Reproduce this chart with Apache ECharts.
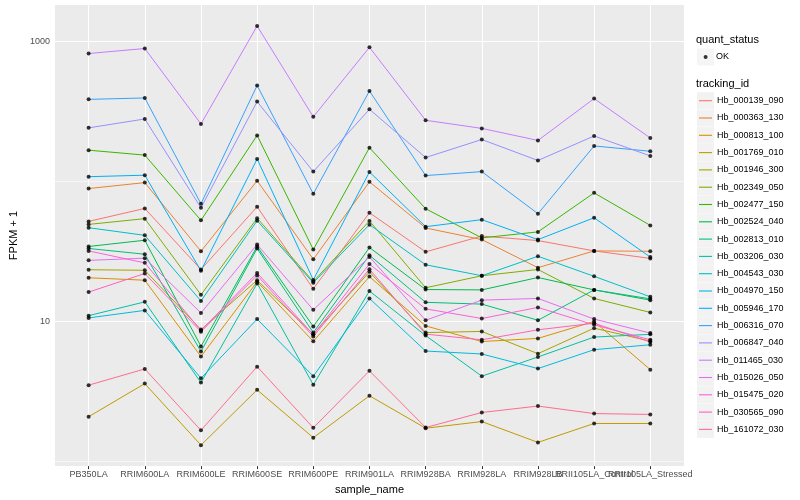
<!DOCTYPE html>
<html>
<head>
<meta charset="utf-8">
<script src="https://cdn.jsdelivr.net/npm/echarts@6/dist/echarts.min.js"></script>
<style>html,body{margin:0;padding:0;background:#fff}#c{width:800px;height:500px}</style>
</head>
<body>
<div id="c"></div>
<script>
const categories = ['PB350LA','RRIM600LA','RRIM600LE','RRIM600SE','RRIM600PE','RRIM901LA','RRIM928BA','RRIM928LA','RRIM928LB','RRII105LA_Control','RRII105LA_Stressed'];
const trackingIds = ['Hb_000139_090','Hb_000363_130','Hb_000813_100','Hb_001769_010','Hb_001946_300','Hb_002349_050','Hb_002477_150','Hb_002524_040','Hb_002813_010','Hb_003206_030','Hb_004543_030','Hb_004970_150','Hb_005946_170','Hb_006316_070','Hb_006847_040','Hb_011465_030','Hb_015026_050','Hb_015475_020','Hb_030565_090','Hb_161072_030'];
const colors = ['#F8766D','#EA8331','#D89000','#C09B00','#A3A500','#7CAE00','#39B600','#00BB4E','#00BF7D','#00C1A3','#00BFC4','#00BAE0','#00B0F6','#35A2FF','#9590FF','#C77CFF','#E76BF3','#FA62DB','#FF62BC','#FF6C91'];

const hb000139_090 = [51.8, 64.1, 23.5, 65.9, 17.1, 59.7, 31.4, 40.7, 37.8, 31.9, 28.2];
const hb000363_130 = [88.9, 98, 31.7, 101, 27.8, 99.2, 46.5, 38.4, 24.2, 31.9, 31.7];
const hb000813_100 = [20.5, 19.7, 5.62, 19.2, 7.21, 20.9, 9.30, 7.19, 7.57, 10.0, 4.53];
const hb001769_010 = [2.09, 3.60, 1.31, 3.25, 1.48, 2.95, 1.73, 1.93, 1.37, 1.87, 1.87];
const hb001946_300 = [23.4, 23.2, 8.75, 19.7, 8.12, 22.6, 8.33, 8.49, 5.89, 8.96, 7.24];
const hb002349_050 = [49.3, 54.2, 15.5, 54.6, 19.3, 52.2, 17.4, 21.2, 23.5, 14.6, 11.6];
const hb002477_150 = [167, 154, 52.7, 213, 32.6, 174, 63.8, 39.5, 43.6, 82.8, 48.5];
const hb002524_040 = [34.3, 38.0, 6.64, 34.3, 9.21, 33.7, 16.9, 16.8, 20.6, 16.8, 14.2];
const hb002813_010 = [33.2, 30.2, 6.10, 33.2, 8.33, 29.7, 13.7, 13.3, 10.2, 16.8, 14.5];
const hb003206_030 = [11.0, 13.8, 3.66, 18.7, 3.53, 16.5, 7.93, 4.07, 5.58, 7.74, 8.09];
const hb004543_030 = [46.7, 41.2, 14.0, 52.4, 18.9, 49.1, 25.4, 21.2, 29.2, 21.0, 15.0];
const hb004970_150 = [10.6, 12.0, 3.93, 10.4, 4.07, 14.6, 6.15, 5.86, 4.61, 6.29, 6.82];
const hb005946_170 = [108, 110.7, 23.0, 144.5, 19.8, 116.8, 47.5, 53.3, 38.4, 55.0, 28.8];
const hb006316_070 = [385, 394, 69.2, 484, 81.5, 442, 110, 117.4, 58.8, 179, 164];
const hb006847_040 = [241, 279, 64.8, 371, 117.4, 327, 148, 199, 141, 211, 152];
const hb011465_030 = [818, 888, 257, 1286, 289, 906, 273, 239, 196, 390, 204];
const hb015026_050 = [27.3, 28.3, 11.5, 35.4, 12.1, 28.9, 10.2, 14.2, 14.6, 10.4, 8.26];
const hb015475_020 = [31.9, 26.2, 8.61, 22.2, 8.06, 25.7, 12.3, 10.5, 12.6, 9.46, 7.40];
const hb030565_090 = [16.2, 22.0, 8.46, 21.3, 7.82, 23.6, 8.12, 7.40, 8.72, 9.72, 7.13];
const hb161072_030 = [3.51, 4.58, 1.67, 4.76, 1.74, 4.44, 1.75, 2.24, 2.49, 2.20, 2.17];

const yLabelValues = [10, 1000];
const yGridMajor = [10, 1000];
const yGridMinor = [1, 100];

const seriesValues = [hb000139_090, hb000363_130, hb000813_100, hb001769_010, hb001946_300, hb002349_050, hb002477_150, hb002524_040, hb002813_010, hb003206_030, hb004543_030, hb004970_150, hb005946_170, hb006316_070, hb006847_040, hb011465_030, hb015026_050, hb015475_020, hb030565_090, hb161072_030];

const FONT = 'Liberation Sans, Arial, sans-serif';
const catIdx = categories.map((c, i) => i);
const catIdxEven = catIdx.filter(i => i % 2 === 0);
const catIdxOdd = catIdx.filter(i => i % 2 === 1);

const lineSeries = trackingIds.map((id, k) => ({
  name: id,
  type: 'line',
  z: 3,
  color: colors[k],
  showSymbol: false,
  symbol: 'none',
  lineStyle: { width: 1, color: colors[k] },
  itemStyle: { color: colors[k] },
  data: seriesValues[k].map((v, i) => [i, v]),
  silent: true
}));

const pointData = [];
seriesValues.forEach(arr => arr.forEach((v, i) => pointData.push([i, v])));

const gridSeries = {
  name: '__grid',
  type: 'line',
  data: [],
  z: 1,
  silent: true,
  markLine: {
    z: 1,
    silent: true,
    symbol: 'none',
    animation: false,
    label: { show: false },
    data: [
      ...yGridMinor.map(v => ({ yAxis: v, lineStyle: { color: '#FFFFFF', width: 0.6, type: 'solid' } })),
      ...yGridMajor.map(v => ({ yAxis: v, lineStyle: { color: '#FFFFFF', width: 1.1, type: 'solid' } })),
      ...catIdx.map(i => ({ xAxis: i, lineStyle: { color: '#FFFFFF', width: 1.1, type: 'solid' } }))
    ]
  }
};

const xLabelStyle = { margin: 4, interval: 0, hideOverlap: false, showMinLabel: true, showMaxLabel: true,
  fontSize: 9, color: '#4D4D4D', fontFamily: FONT, formatter: v => categories[Math.round(v)] || '' };

const chart = echarts.init(document.getElementById('c'), null, { renderer: 'canvas' });
chart.setOption({
  animation: false,
  backgroundColor: '#FFFFFF',
  title: [
    { text: 'quant_status', left: 696, top: 34, padding: 0, textStyle: { fontSize: 11, fontWeight: 'normal', color: '#000', fontFamily: FONT } },
    { text: 'tracking_id', left: 696, top: 78, padding: 0, textStyle: { fontSize: 11, fontWeight: 'normal', color: '#000', fontFamily: FONT } }
  ],
  grid: { left: 45, right: 116, top: 5, bottom: 31.3, show: true, backgroundColor: '#EBEBEB', borderWidth: 0, containLabel: false },
  xAxis: [{
    type: 'value',
    position: 'bottom',
    min: -0.6,
    max: 10.6,
    name: 'sample_name',
    nameLocation: 'middle',
    nameGap: 13,
    nameTextStyle: { fontSize: 11, color: '#000', fontFamily: FONT },
    axisLine: { show: false },
    splitLine: { show: false },
    axisTick: { show: true, customValues: catIdx, length: 3, lineStyle: { color: '#333333', width: 1 } },
    axisLabel: Object.assign({ customValues: catIdxEven }, xLabelStyle)
  }, {
    type: 'value',
    position: 'bottom',
    offset: 0,
    min: -0.6,
    max: 10.6,
    axisLine: { show: false },
    splitLine: { show: false },
    axisTick: { show: false },
    axisLabel: Object.assign({ customValues: catIdxOdd }, xLabelStyle)
  }],
  yAxis: {
    type: 'log',
    logBase: 10,
    min: 0.928,
    max: 1816,
    name: 'FPKM + 1',
    nameLocation: 'middle',
    nameRotate: 90,
    nameGap: 27,
    nameTextStyle: { fontSize: 11, color: '#000', fontFamily: FONT },
    axisLine: { show: false },
    splitLine: { show: false },
    minorSplitLine: { show: false },
    axisTick: { show: true, customValues: yLabelValues, length: 3, lineStyle: { color: '#333333', width: 1 } },
    axisLabel: { customValues: yLabelValues, margin: 5, fontSize: 9, color: '#4D4D4D', fontFamily: FONT,
      showMinLabel: true, showMaxLabel: true,
      formatter: v => (yLabelValues.some(t => Math.abs(t - v) / t < 1e-6) ? String(Math.round(v)) : '') }
  },
  legend: [
    { data: ['OK'], orient: 'vertical', left: 697, top: 48.5, padding: 0, itemGap: 0, selectedMode: false,
      icon: 'rect', itemWidth: 17, itemHeight: 17, formatter: () => '', textStyle: { fontSize: 9 },
      itemStyle: { color: '#F2F2F2', borderWidth: 0, borderColor: 'transparent' } },
    { data: ['OK'], orient: 'vertical', left: 703.6, top: 48.5, padding: 0, itemGap: 0, selectedMode: false,
      icon: 'circle', itemWidth: 4, itemHeight: 4,
      textStyle: { fontSize: 9, color: '#000', fontFamily: FONT, lineHeight: 17, padding: [0, 0, 0, 3.5] },
      itemStyle: { color: '#000', borderWidth: 0 } },
    { data: trackingIds, orient: 'vertical', left: 697, top: 92.2, padding: 0, itemGap: 0.3, selectedMode: false,
      icon: 'rect', itemWidth: 17, itemHeight: 17, formatter: () => '', textStyle: { fontSize: 9 },
      itemStyle: { color: '#F2F2F2', borderWidth: 0, borderColor: 'transparent' } },
    { data: trackingIds, orient: 'vertical', left: 699, top: 92.2, padding: 0, itemGap: 0.3, selectedMode: false,
      icon: 'rect', itemWidth: 13, itemHeight: 1.1,
      textStyle: { fontSize: 9, color: '#000', fontFamily: FONT, lineHeight: 17 },
      itemStyle: { borderWidth: 0 } }
  ],
  series: [
    gridSeries,
    ...lineSeries,
    { name: 'OK', type: 'scatter', z: 4, symbol: 'circle', symbolSize: 4, silent: true,
      itemStyle: { color: '#000000' }, data: pointData }
  ]
});
</script>
</body>
</html>
